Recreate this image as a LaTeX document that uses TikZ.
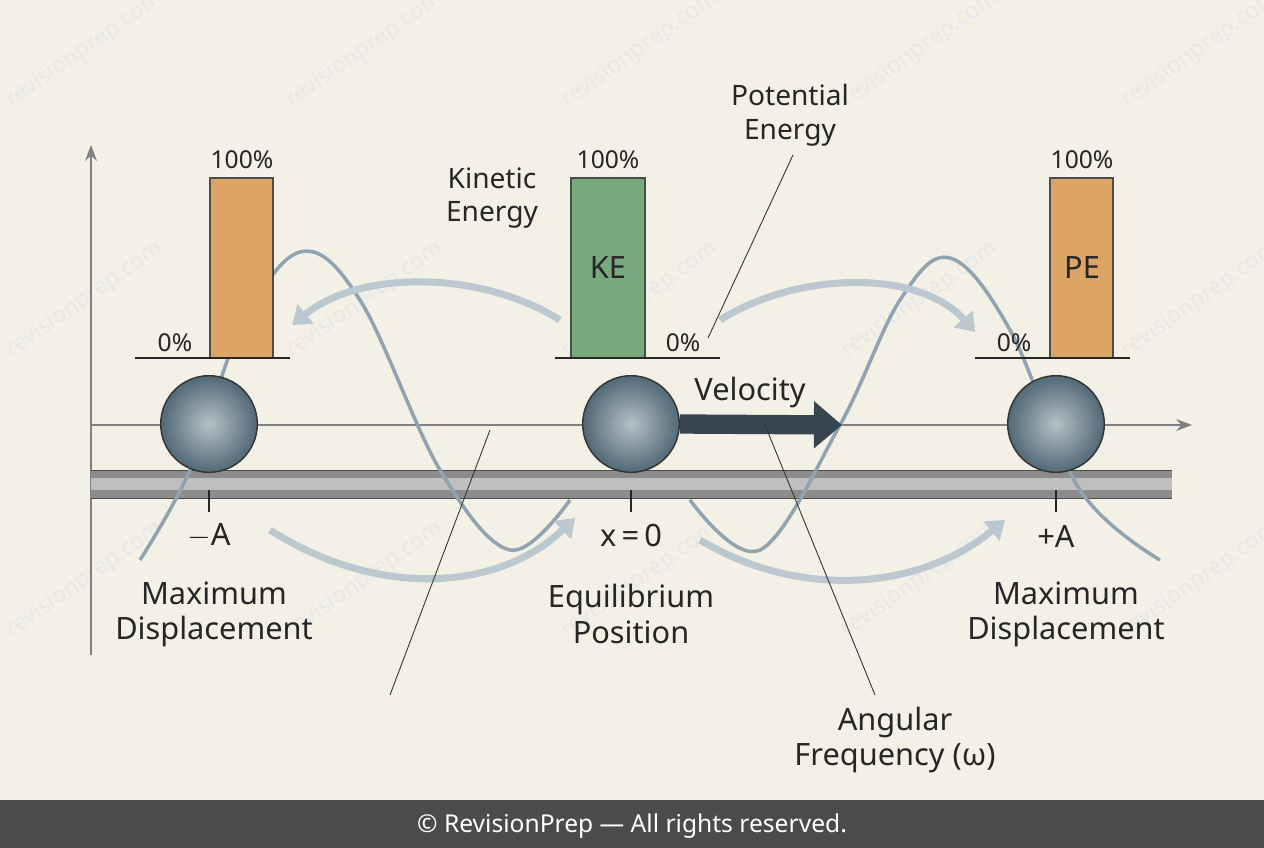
\documentclass[tikz,border=0pt]{standalone}
\usepackage{fontspec}
\setmainfont{Noto Sans}
\usetikzlibrary{arrows.meta}
\definecolor{paper}{HTML}{F3F0E6}
\definecolor{barorange}{HTML}{DCA465}
\definecolor{bargreen}{HTML}{77A97C}
\definecolor{steel}{HTML}{5B7483}
\definecolor{wave}{HTML}{8FA3B0}
\definecolor{footer}{HTML}{4A4B4D}
\tikzset{
  lbl/.style={font=\fontsize{17.5}{20}\selectfont, align=center, text=black!85},
  pct/.style={font=\fontsize{14}{16}\selectfont, text=black!85},
  bar/.style={draw=black!70, line width=0.6pt},
  ball/.style={circle, minimum size=55pt, draw=black!80, line width=0.8pt, inner color=steel!45, outer color=steel!90!black},
  flow/.style={draw=wave!60, line width=4pt, -{Triangle[length=10pt,width=14pt]}},
  leader/.style={draw=black!80, line width=0.5pt},
  wmark/.style={font=\fontsize{13}{15}\selectfont, text=black!9, rotate=35}
}
\begin{document}
\begin{tikzpicture}[x=0.02cm, y=-0.02cm]
  \useasboundingbox (0,0) rectangle (1264,848);
  \clip (0,0) rectangle (1264,848);
  \fill[paper] (0,0) rectangle (1264,848);
  % watermarks
  \foreach \wx in {85,365,640,920,1200}
    \foreach \wy in {50,300,580}
      \node[wmark] (wm) at (\wx,\wy) {revisionprep.com};
  % axes
  \draw[black!50, line width=1pt, -{Stealth[length=9pt]}] (91,655) -- (91,145);
  \draw[black!50, line width=1pt, -{Stealth[length=9pt]}] (91,425) -- (1192,425);
  % track
  \fill[black!45] (91,470) rectangle (1172,498);
  \fill[black!25] (91,478) rectangle (1172,490);
  \draw[black!70] (91,470) -- (1172,470) (91,498) -- (1172,498);
  % wave
  \draw[wave, line width=2pt] plot[smooth, tension=0.6] coordinates {(140,560) (190,470) (240,330) (300,252) (360,300) (440,470) (510,550) (570,500)};
  \draw[wave, line width=2pt] plot[smooth, tension=0.6] coordinates {(690,500) (760,550) (840,425) (900,300) (950,258) (1010,330) (1080,490) (1160,560)};
  % flow arrows
  \draw[flow] (560,320) .. controls (480,270) and (360,270) .. (292,325);
  \draw[flow] (720,320) .. controls (800,270) and (920,270) .. (975,332);
  \draw[flow] (270,530) .. controls (380,600) and (500,590) .. (575,518);
  \draw[flow] (700,540) .. controls (800,600) and (920,590) .. (1005,520);
  % leader lines
  \coordinate (t1) at (390,695);
  \coordinate (t2) at (490,430);
  \draw[leader] (t1) -- (t2);
  % bars
  \draw[bar, fill=barorange] (210,178) rectangle (273,358);
  \draw[bar, fill=bargreen] (571,178) rectangle (645,358);
  \draw[bar, fill=barorange] (1050,178) rectangle (1113,358);
  \draw[black!85, line width=1pt] (135,358) -- (290,358) (555,358) -- (720,358) (975,358) -- (1130,358);
  \node[pct] (l100) at (242,160) {100\%};
  \node[pct] (l0) at (175,343) {0\%};
  \node[pct] (m100) at (608,160) {100\%};
  \node[pct] (m0) at (683,343) {0\%};
  \node[pct] (r100) at (1082,160) {100\%};
  \node[pct] (r0) at (1014,343) {0\%};
  \node[lbl] (ke) at (608,268) {KE};
  \node[lbl] (pe) at (1082,268) {PE};
  \node[lbl, font=\fontsize{16}{19}\selectfont] (kin) at (492,198) {Kinetic\\Energy};
  \node[lbl, font=\fontsize{16}{19}\selectfont] (pot) at (790,115) {Potential\\Energy};
  \coordinate (potend) at (708,338);
  \draw[leader] (793,155) -- (potend);
  % balls
  \node[ball] (bl) at (209,424) {};
  \node[ball] (bm) at (631,424) {};
  \node[ball] (br) at (1056,424) {};
  % velocity
  \coordinate (vend) at (842,425);
  \draw[steel!60!black, line width=11pt, -{Triangle[length=16pt,width=26pt]}] (bm.east) -- (vend);
  \node[lbl] (vel) at (750,393) {Velocity};
  \coordinate (a1) at (875,695);
  \coordinate (a2) at (765,425);
  \draw[leader] (a1) -- (a2);
  % ticks and labels
  \foreach \tx in {209,631,1056}
    \draw[black!85, line width=1pt] (\tx,490) -- (\tx,512);
  \node[lbl] (mA) at (209,536) {\(-\)A};
  \node[lbl] (x0) at (631,536) {x\,=\,0};
  \node[lbl] (pA) at (1056,536) {+A};
  \node[lbl] (dl) at (214,614) {Maximum\\Displacement};
  \node[lbl] (eq) at (631,614) {Equilibrium\\Position};
  \node[lbl] (dr) at (1066,614) {Maximum\\Displacement};
  \node[lbl] (om) at (895,740) {Angular\\Frequency (ω)};
  % footer
  \fill[footer] (0,800) rectangle (1264,848);
  \node[font=\fontsize{14}{16}\selectfont, text=white] (foot) at (632,826) {© RevisionPrep — All rights reserved.};
\end{tikzpicture}
\end{document}
